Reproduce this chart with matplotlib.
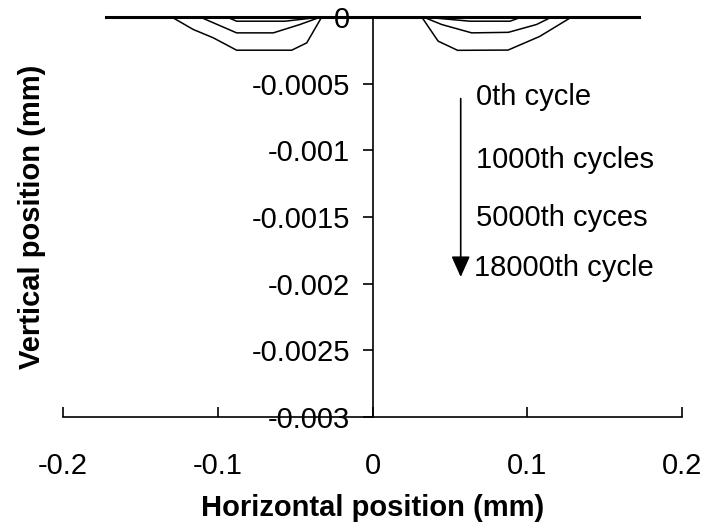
import matplotlib
matplotlib.use('Agg')
import matplotlib.pyplot as plt

plt.rcParams['font.family'] = ['Liberation Sans', 'DejaVu Sans']

# wear profiles (mm)
x_0th = [-0.172, 0.172]
y_0th = [0.0, 0.0]

x_1000 = [-0.172, -0.0942, -0.0878, -0.0565, -0.033, 0.0328, 0.063, 0.0889, 0.0964, 0.172]
y_1000 = [0.0, 0.0, -0.0000315, -0.0000315, 0.0, 0.0, -0.0000315, -0.0000315, 0.0, 0.0]

x_5000 = [-0.172, -0.1115, -0.0878, -0.0641, -0.0469, -0.0335, 0.0328, 0.0447, 0.0641, 0.0878, 0.106, 0.1158, 0.172]
y_5000 = [0.0, 0.0, -0.000119, -0.000119, -0.0000563, 0.0, 0.0, -0.0000563, -0.000119, -0.000115, -0.0000563, 0.0, 0.0]

x_18000 = [-0.172, -0.1298, -0.1158, -0.1029, -0.0878, -0.0522, -0.0425, -0.0328,
           0.0318, 0.0424, 0.055, 0.0876, 0.108, 0.1287, 0.172]
y_18000 = [0.0, 0.0, -0.0000938, -0.000156, -0.000249, -0.000249, -0.000194, 0.0,
           0.0, -0.000181, -0.00025, -0.000248, -0.000146, 0.0, 0.0]

x_ticks = [-0.2, -0.1, 0, 0.1, 0.2]
x_tick_labels = ['-0.2', '-0.1', '0', '0.1', '0.2']
y_ticks = [0, -0.0005, -0.001, -0.0015, -0.002, -0.0025, -0.003]
y_tick_labels = ['0', '-0.0005', '-0.001', '-0.0015', '-0.002', '-0.0025', '-0.003']

cycle_labels = ['0th cycle', '1000th cycles', '5000th cyces', '18000th cycle']
cycle_label_y = [-0.0006, -0.00107, -0.00151, -0.00188]

fig = plt.figure(figsize=(7.06, 5.29), dpi=100)
ax = fig.add_axes([63 / 706, 1 - 417 / 529, 619 / 706, 400 / 529])

ax.plot(x_0th, y_0th, color='black', lw=2.2, clip_on=False)
ax.plot(x_1000, y_1000, color='black', lw=1.1, clip_on=False)
ax.plot(x_5000, y_5000, color='black', lw=1.1, clip_on=False)
ax.plot(x_18000, y_18000, color='black', lw=1.1, clip_on=False)

ax.set_xlim(-0.2, 0.2)
ax.set_ylim(-0.003, 0)

ax.spines['top'].set_visible(False)
ax.spines['right'].set_visible(False)
ax.spines['left'].set_position(('data', 0))
ax.spines['left'].set_linewidth(1.2)
ax.spines['bottom'].set_linewidth(1.2)

ax.set_xticks(x_ticks)
ax.set_xticklabels(x_tick_labels)
ax.set_yticks(y_ticks)
ax.set_yticklabels(y_tick_labels)
ax.tick_params(axis='x', direction='in', length=7, width=1.2, pad=25, labelsize=21)
ax.tick_params(axis='y', direction='out', length=7, width=1.2, pad=9, labelsize=21)

ax.set_xlabel('Horizontal position (mm)', fontsize=21, fontweight='bold', va='center')
ax.xaxis.set_label_coords(0.5, -0.2275)
ax.set_ylabel('Vertical position (mm)', fontsize=21, fontweight='bold', va='center')
ax.yaxis.set_label_coords(-0.05, 0.5)

# arrow pointing to increasing cycles
ax.annotate('', xy=(0.057, -0.00195), xytext=(0.057, -0.000612),
            arrowprops=dict(arrowstyle='-|>,head_length=0.85,head_width=0.38',
                            mutation_scale=15, color='black', lw=1.2,
                            shrinkA=0, shrinkB=0))
for lbl, yy in zip(cycle_labels, cycle_label_y):
    xx = 0.0656 if lbl.startswith('18000') else 0.0669
    ax.text(xx, yy, lbl, fontsize=21, va='center', ha='left')

fig.savefig('out.png', dpi=100)
